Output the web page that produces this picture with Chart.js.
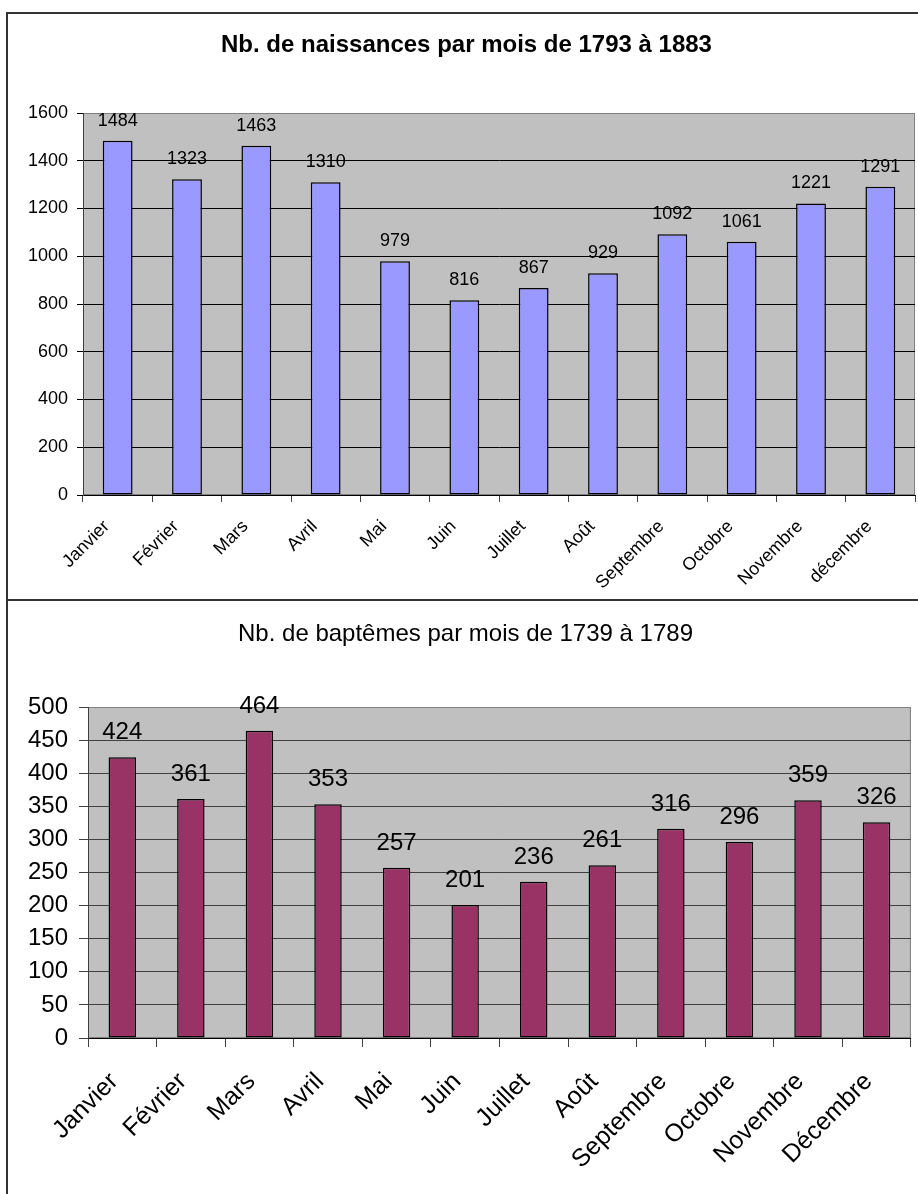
<!DOCTYPE html>
<html lang="fr">
<head>
<meta charset="utf-8">
<title>Naissances et baptêmes par mois</title>
<script src="https://cdn.jsdelivr.net/npm/chart.js@4/dist/chart.umd.min.js"></script>
<style>
    html, body {
        margin: 0;
        padding: 0;
        background: #ffffff;
        width: 918px;
        height: 1194px;
        overflow: hidden;
        position: relative;
    }
    .line {
        position: absolute;
        background: #333333;
    }
    canvas {
        position: absolute;
    }
</style>
</head>
<body>
<div class="line" style="left:6px; top:12px; width:2px; height:1182px;"></div>
<div class="line" style="left:6px; top:12px; width:912px; height:2px;"></div>
<div class="line" style="left:6px; top:599px; width:912px; height:2px;"></div>

<canvas id="naissancesChart" width="910" height="585" style="left:8px; top:14px;"></canvas>
<canvas id="baptemesChart" width="910" height="593" style="left:8px; top:601px;"></canvas>

<script>
const FONT = '"Liberation Sans", Arial, Helvetica, sans-serif';

// Top chart: births 1793-1883
const naissancesTitle = 'Nb. de naissances par mois de 1793 à 1883';
const naissancesMonths = ['Janvier', 'Février', 'Mars', 'Avril', 'Mai', 'Juin',
    'Juillet', 'Août', 'Septembre', 'Octobre', 'Novembre', 'décembre'];
const naissancesValues = [1484, 1323, 1463, 1310, 979, 816, 867, 929, 1092, 1061, 1221, 1291];
const naissancesTicks = [0, 200, 400, 600, 800, 1000, 1200, 1400, 1600];

// Bottom chart: baptisms 1739-1789
const baptemesTitle = 'Nb. de baptêmes par mois de 1739 à 1789';
const baptemesMonths = ['Janvier', 'Février', 'Mars', 'Avril', 'Mai', 'Juin',
    'Juillet', 'Août', 'Septembre', 'Octobre', 'Novembre', 'Décembre'];
const baptemesValues = [424, 361, 464, 353, 257, 201, 236, 261, 316, 296, 359, 326];
const baptemesTicks = [0, 50, 100, 150, 200, 250, 300, 350, 400, 450, 500];

// Grey plot background with a thin frame, like the old spreadsheet charts
const plotBackground = {
    id: 'plotBackground',
    beforeDraw(chart) {
        const { ctx, chartArea: a } = chart;
        ctx.save();
        ctx.fillStyle = '#c0c0c0';
        ctx.fillRect(a.left, a.top, a.right - a.left, a.bottom - a.top);
        ctx.strokeStyle = '#808080';
        ctx.lineWidth = 1;
        ctx.strokeRect(a.left + 0.5, a.top + 0.5, a.right - a.left - 1, a.bottom - a.top - 1);
        ctx.restore();
    }
};

// Value written above each bar
const valueLabels = {
    id: 'valueLabels',
    afterDatasetsDraw(chart, args, opts) {
        const { ctx } = chart;
        const meta = chart.getDatasetMeta(0);
        const values = chart.data.datasets[0].data;
        ctx.save();
        ctx.font = opts.size + 'px ' + FONT;
        ctx.fillStyle = '#000000';
        ctx.textAlign = 'center';
        ctx.textBaseline = 'alphabetic';
        meta.data.forEach((bar, i) => {
            ctx.fillText(String(values[i]), bar.x, bar.y - opts.gap);
        });
        ctx.restore();
    }
};

function makeChart(id, cfg) {
    const ctx = document.getElementById(id).getContext('2d');
    const ticks = cfg.yTicks;
    return new Chart(ctx, {
        type: 'bar',
        data: {
            labels: cfg.labels,
            datasets: [{
                data: cfg.values,
                backgroundColor: cfg.color,
                borderColor: '#000000',
                borderWidth: 1.5,
                borderSkipped: false,
                categoryPercentage: 1,
                barPercentage: cfg.barPct
            }]
        },
        plugins: [plotBackground, valueLabels],
        options: {
            responsive: false,
            animation: false,
            devicePixelRatio: 1,
            layout: {
                // left padding only moves the title centre; the axis width makes up for it
                padding: { left: 10, right: cfg.padRight, top: 0, bottom: 0 }
            },
            plugins: {
                legend: { display: false },
                tooltip: { enabled: false },
                title: {
                    display: true,
                    text: cfg.title,
                    color: '#000000',
                    font: { family: FONT, size: cfg.titleSize, weight: cfg.titleWeight, lineHeight: 1 },
                    padding: { top: cfg.titleTop, bottom: cfg.titleBottom }
                },
                valueLabels: { size: cfg.valueSize, gap: cfg.valueGap }
            },
            scales: {
                x: {
                    grid: {
                        offset: true,
                        drawOnChartArea: false,
                        drawTicks: true,
                        tickLength: cfg.xTickLen,
                        tickColor: '#404040'
                    },
                    border: { display: true, color: '#000000', width: 1 },
                    ticks: {
                        color: '#000000',
                        font: { family: FONT, size: cfg.labelSize },
                        minRotation: 45,
                        maxRotation: 45,
                        autoSkip: false,
                        padding: cfg.xPad,
                        labelOffset: cfg.xShift
                    },
                    afterFit(scale) { scale.height = cfg.xHeight; }
                },
                y: {
                    min: ticks[0],
                    max: ticks[ticks.length - 1],
                    afterBuildTicks(scale) { scale.ticks = ticks.map(v => ({ value: v })); },
                    grid: {
                        color: c => c.tick && c.tick.value === ticks[ticks.length - 1] ? '#808080' : cfg.gridColor,
                        tickColor: cfg.gridColor,
                        tickLength: cfg.yTickLen,
                        lineWidth: 1
                    },
                    border: { display: true, color: '#404040', width: 1 },
                    ticks: {
                        color: '#000000',
                        font: { family: FONT, size: cfg.yLabelSize },
                        padding: cfg.yPad,
                        callback: v => String(v)
                    },
                    afterFit(scale) { scale.width = cfg.yWidth; }
                }
            }
        }
    });
}

window.naissancesChart = makeChart('naissancesChart', {
    title: naissancesTitle,
    labels: naissancesMonths,
    values: naissancesValues,
    yTicks: naissancesTicks,
    color: '#9999ff',
    barPct: 0.43,
    padRight: 3,
    titleSize: 24,
    titleWeight: 'bold',
    titleTop: 19,
    titleBottom: 56,
    valueSize: 18,
    valueGap: 15,
    labelSize: 18,
    yLabelSize: 18,
    xTickLen: 7,
    yTickLen: 6,
    xPad: 14,
    xShift: -11,
    xHeight: 104,
    yPad: 9,
    yWidth: 65,
    gridColor: '#000000'
});

window.baptemesChart = makeChart('baptemesChart', {
    title: baptemesTitle,
    labels: baptemesMonths,
    values: baptemesValues,
    yTicks: baptemesTicks,
    color: '#993366',
    barPct: 0.40,
    padRight: 5,
    titleSize: 24,
    titleWeight: 'normal',
    titleTop: 21,
    titleBottom: 61,
    valueSize: 24,
    valueGap: 18,
    labelSize: 25,
    yLabelSize: 24,
    xTickLen: 9,
    yTickLen: 9,
    xPad: 20,
    xShift: -8,
    xHeight: 156,
    yPad: 11,
    yWidth: 70,
    gridColor: '#404040'
});
</script>
</body>
</html>
